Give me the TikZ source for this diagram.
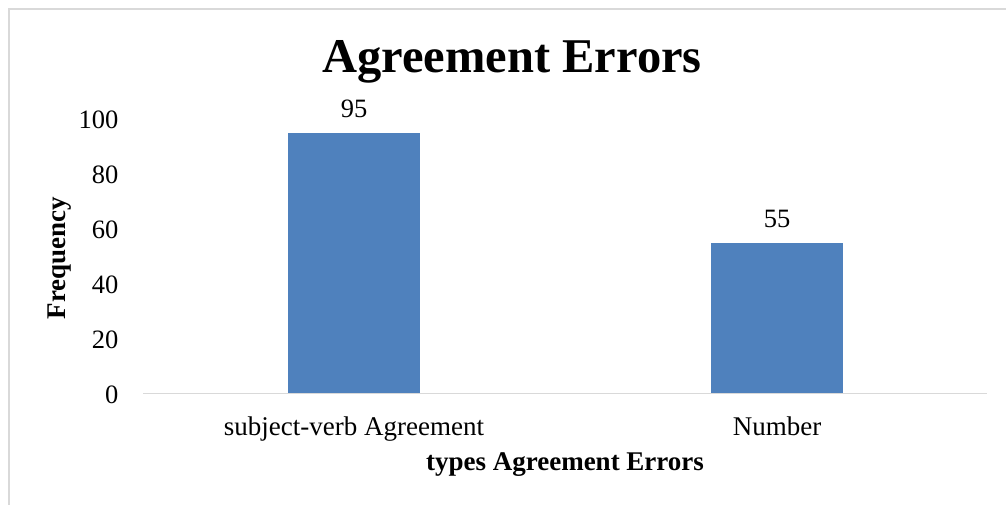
\documentclass[tikz,border=0pt]{standalone}
\usepackage{fontspec}
\setmainfont{Liberation Serif}
\usepackage{xcolor}
\usetikzlibrary{positioning}
\definecolor{barblue}{HTML}{4F81BD}
\definecolor{framegray}{HTML}{D9D9D9}

\begin{document}
\begin{tikzpicture}[x=1pt, y=-1pt,
				bar/.style={fill=barblue, draw=none},
				tick/.style={anchor=east, font=\fontsize{26.5}{26.5}\selectfont},
				val/.style={anchor=south, font=\fontsize{26.5}{26.5}\selectfont},
				cat/.style={anchor=base, font=\fontsize{27}{27}\selectfont},
				axtitle/.style={font=\bfseries\fontsize{27}{27}\selectfont}]
				\useasboundingbox (0,0) rectangle (1006,504);
				\draw[framegray, line width=2pt] (1010,9) -- (9,9) -- (9,508);
				\node at (512,62) (title) {\bfseries\fontsize{48.5}{48.5}\selectfont Agreement Errors};
				% y ticks
				\foreach \v in {0,20,...,100}
					\node[tick] at (122,395-2.75*\v) (t\v) {\v};
				\coordinate (axl) at (143,393.5);
				\coordinate (axr) at (987,393.5);
				\draw[framegray, line width=1.5pt] (axl) -- (axr);
				% bars
				\fill[bar] (288,392.5) rectangle (420,133) coordinate (b1);
				\fill[bar] (711,392.5) rectangle (843,243) coordinate (b2);
				\node[val] at (354,121) (v1) {95};
				\node[val] at (777,231) (v2) {55};
				\node[cat] at (354,435) (c1) {subject-verb Agreement};
				\node[cat] at (777,435) (c2) {Number};
				\node[axtitle] at (565,465) (xt) {types Agreement Errors};
				\node[axtitle, rotate=90] at (60,258) (yt) {Frequency};
			\end{tikzpicture}
\end{document}
